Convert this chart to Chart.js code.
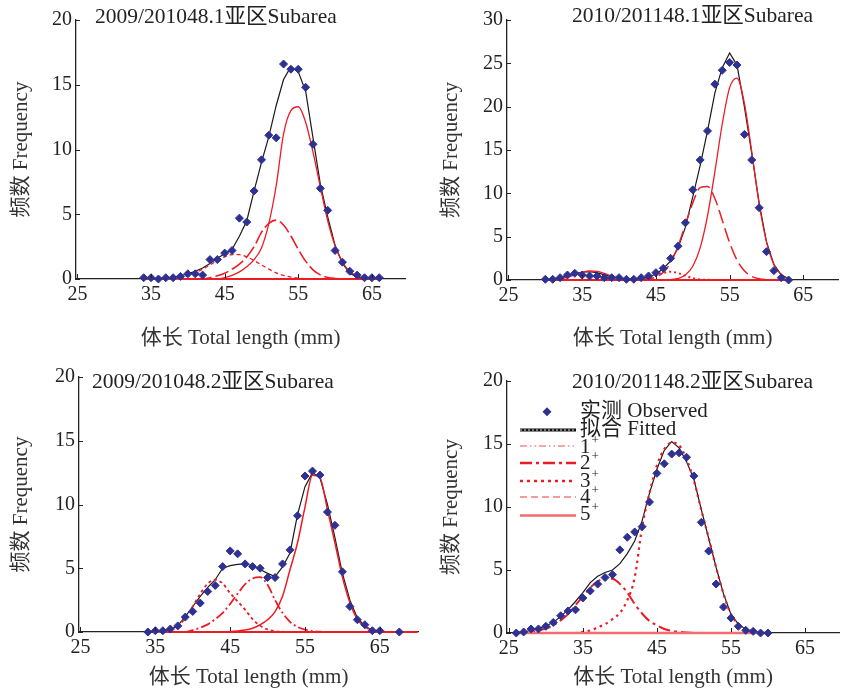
<!DOCTYPE html>
<html>
<head>
<meta charset="utf-8">
<script src="https://cdn.jsdelivr.net/npm/chart.js@4.4.1/dist/chart.umd.min.js"></script>
<style>
    html, body { margin: 0; padding: 0; background: #fff; }
    #wrap { position: relative; width: 847px; height: 689px; }
    canvas { position: absolute; }
</style>
</head>
<body>
<div id="wrap">
    <canvas id="c1" width="423" height="350" style="left:0;top:0"></canvas>
    <canvas id="c2" width="424" height="350" style="left:423px;top:0"></canvas>
    <canvas id="c3" width="423" height="339" style="left:0;top:350px"></canvas>
    <canvas id="c4" width="424" height="339" style="left:423px;top:350px"></canvas>
</div>
<script>
// @ts-check

const FONT = "'Liberation Serif', 'Noto Sans CJK SC', serif";
const RED = '#ed1c24';
const NAVY = '#2e3192';

// ---- texts & ticks ----
const xTickValues = [25, 35, 45, 55, 65];
const yTicks20 = [0, 5, 10, 15, 20];
const yTicks30 = [0, 5, 10, 15, 20, 25, 30];
const xTitle = '体长 Total length (mm)';
const yTitle = '频数 Frequency';
const panelTitles = ['2009/201048.1亚区Subarea', '2010/201148.1亚区Subarea', '2009/201048.2亚区Subarea', '2010/201148.2亚区Subarea'];
const legendLabels = ['实测 Observed', '拟合 Fitted', '1', '2', '3', '4', '5'];

// ---- panel 1 : 2009/2010, 48.1 ----
const p1Len = [34, 35, 36, 37, 38, 39, 40, 41, 42, 43, 44, 45, 46, 47, 48, 49, 50, 51, 52, 53, 54, 55, 56, 57, 58, 59, 60, 61, 62, 63, 64, 65, 66];
const p1Obs = [0.1, 0.1, 0, 0.1, 0.1, 0.2, 0.4, 0.4, 0.3, 1.5, 1.5, 2.0, 2.2, 4.7, 4.4, 6.8, 9.2, 11.1, 10.9, 16.6, 16.2, 16.2, 14.8, 10.4, 7.0, 5.3, 2.2, 1.3, 0.6, 0.3, 0.1, 0.1, 0.1];
const p1Fit = [0, 0.02, 0.05, 0.08, 0.15, 0.25, 0.4, 0.6, 0.85, 1.2, 1.6, 1.95, 2.3, 3.3, 4.5, 6.8, 9.0, 11.0, 13.4, 15.4, 16.4, 16.0, 14.5, 10.9, 7.3, 4.8, 2.6, 1.2, 0.45, 0.15, 0.05, 0.02, 0];
const p1CompA = [0, 0, 0, 0.03, 0.07, 0.15, 0.28, 0.48, 0.76, 1.09, 1.43, 1.71, 1.88, 1.88, 1.71, 1.43, 1.09, 0.76, 0.48, 0.28, 0.15, 0.07, 0.03, 0.01, 0, 0, 0, 0, 0, 0, 0, 0, 0];
const p1CompB = [0, 0, 0, 0, 0, 0, 0, 0, 0, 0.1, 0.25, 0.45, 0.75, 1.15, 1.7, 2.5, 3.6, 4.3, 4.55, 4.17, 3.32, 2.29, 1.38, 0.71, 0.32, 0.12, 0.04, 0.01, 0, 0, 0, 0, 0];
const p1CompC = [0, 0, 0, 0, 0, 0, 0, 0, 0, 0, 0, 0.1, 0.28, 0.55, 0.95, 1.5, 2.4, 4.3, 7.2, 11.2, 13.0, 13.3, 12.1, 9.8, 7.1, 4.5, 2.57, 1.3, 0.58, 0.23, 0.08, 0.03, 0.01];
const p1BaseLen = [40, 45, 50, 55, 60, 66];
const p1Base = [0, 0, 0, 0, 0, 0];

// ---- panel 2 : 2010/2011, 48.1 ----
const p2Len = [30, 31, 32, 33, 34, 35, 36, 37, 38, 39, 40, 41, 42, 43, 44, 45, 46, 47, 48, 49, 50, 51, 52, 53, 54, 55, 56, 57, 58, 59, 60, 61, 62, 63];
const p2Obs = [0.08, 0.08, 0.27, 0.58, 0.77, 0.58, 0.46, 0.46, 0.27, 0.27, 0.27, 0.08, 0.08, 0.27, 0.46, 0.85, 1.35, 2.5, 3.9, 6.6, 10.4, 13.85, 17.2, 22.6, 24.2, 25.1, 24.8, 16.8, 13.85, 8.34, 3.27, 1.08, 0.27, 0];
const p2Fit = [0.05, 0.1, 0.25, 0.5, 0.75, 0.9, 0.95, 0.85, 0.6, 0.4, 0.22, 0.12, 0.1, 0.2, 0.35, 0.7, 1.3, 2.2, 3.7, 6.1, 9.6, 13.2, 17.2, 21.6, 24.5, 26.2, 24.8, 20.0, 14.6, 8.9, 4.4, 1.8, 0.6, 0.15];
const p2CompA = [0, 0.04, 0.13, 0.3, 0.58, 0.87, 1.04, 0.99, 0.76, 0.46, 0.22, 0.09, 0.03, 0.01, 0, 0, 0, 0, 0, 0, 0, 0, 0, 0, 0, 0, 0, 0, 0, 0, 0, 0, 0, 0];
const p2CompB = [0, 0, 0, 0, 0, 0, 0, 0, 0, 0, 0, 0, 0, 0, 0.21, 0.49, 0.8, 0.95, 0.8, 0.49, 0.21, 0.07, 0.02, 0, 0, 0, 0, 0, 0, 0, 0, 0, 0, 0];
const p2CompC = [0, 0, 0, 0, 0, 0, 0, 0, 0, 0, 0, 0, 0, 0, 0.11, 0.34, 0.9, 2.0, 3.9, 6.4, 8.9, 10.65, 10.8, 9.4, 6.9, 4.3, 2.3, 1.07, 0.41, 0.14, 0.04, 0.01, 0, 0];
const p2CompD = [0, 0, 0, 0, 0, 0, 0, 0, 0, 0, 0, 0, 0, 0, 0, 0, 0, 0.05, 0.18, 0.58, 1.59, 3.7, 7.4, 12.5, 18.0, 22.2, 23.3, 20.4, 14.8, 8.8, 4.4, 1.79, 0.6, 0.17];
const p2BaseLen = [31, 40, 50, 62];
const p2Base = [0, 0, 0, 0];

// ---- panel 3 : 2009/2010, 48.2 ----
const p3ObsLen = [34, 35, 36, 37, 38, 39, 40, 41, 42, 43, 44, 45, 46, 47, 48, 49, 50, 51, 52, 53, 54, 55, 56, 57, 58, 59, 60, 61, 62, 63, 64, 65, 67.6];
const p3Obs = [0, 0.1, 0.1, 0.23, 0.48, 1.17, 1.61, 2.27, 3.18, 3.65, 5.13, 6.36, 6.13, 5.34, 5.13, 5.0, 4.27, 4.27, 5.34, 6.44, 9.12, 12.23, 12.62, 12.31, 9.41, 8.37, 4.72, 2.0, 0.96, 0.57, 0.1, 0.1, 0];
const p3Len = [34, 35, 36, 37, 38, 39, 40, 41, 42, 43, 44, 45, 46, 47, 48, 49, 50, 51, 52, 53, 54, 55, 56, 57, 58, 59, 60, 61, 62, 63, 64, 65, 66, 67, 68, 69, 70];
const p3Fit = [0, 0.02, 0.05, 0.15, 0.5, 1.2, 2.0, 2.8, 3.5, 4.1, 5.0, 5.2, 5.3, 5.35, 5.2, 4.9, 4.6, 4.35, 5.1, 6.2, 9.2, 11.4, 12.5, 12.1, 10.0, 7.4, 4.6, 2.5, 1.1, 0.45, 0.15, 0.05, 0.02, 0, 0, 0, 0];
const p3CompA = [0, 0.03, 0.1, 0.25, 0.5, 1.1, 2.0, 3.0, 3.8, 4.1, 3.8, 3.05, 2.4, 1.75, 1.0, 0.5, 0.2, 0.07, 0.02, 0, 0, 0, 0, 0, 0, 0, 0, 0, 0, 0, 0, 0, 0, 0, 0, 0, 0];
const p3CompB = [0, 0, 0, 0, 0, 0, 0.15, 0.33, 0.6, 1.0, 1.5, 2.2, 3.0, 3.75, 4.2, 4.3, 3.7, 2.5, 1.5, 0.8, 0.4, 0.18, 0.07, 0.02, 0, 0, 0, 0, 0, 0, 0, 0, 0, 0, 0, 0, 0];
const p3CompC = [0, 0, 0, 0, 0, 0, 0, 0, 0, 0, 0, 0.03, 0.08, 0.15, 0.3, 0.57, 0.96, 1.6, 2.8, 4.9, 7.0, 9.8, 12.3, 12.1, 9.6, 7.0, 4.3, 2.3, 1.0, 0.4, 0.15, 0.05, 0.02, 0, 0, 0, 0];
const p3BaseLen = [36, 45, 55, 70];
const p3Base = [0, 0, 0, 0];

// ---- panel 4 : 2010/2011, 48.2 ----
const p4Len = [26, 27, 28, 29, 30, 31, 32, 33, 34, 35, 36, 37, 38, 39, 40, 41, 42, 43, 44, 45, 46, 47, 48, 49, 50, 51, 52, 53, 54, 55, 56, 57, 58, 59, 60];
const p4Obs = [0, 0.08, 0.32, 0.32, 0.53, 0.84, 1.37, 1.75, 1.84, 2.78, 3.34, 3.88, 4.4, 4.63, 6.6, 7.6, 8.02, 8.44, 10.4, 12.67, 13.43, 14.2, 14.3, 13.95, 12.47, 8.78, 6.5, 3.89, 2.06, 1.19, 0.53, 0.21, 0.13, 0, 0];
const p4Fit = [0.05, 0.1, 0.2, 0.35, 0.55, 0.85, 1.3, 1.85, 2.5, 3.2, 4.0, 4.5, 4.8, 5.0, 5.5, 6.3, 7.3, 8.9, 11.1, 13.0, 14.5, 15.2, 14.7, 13.6, 12.2, 9.8, 7.5, 5.2, 3.1, 1.5, 0.7, 0.3, 0.1, 0.04, 0];
const p4Comp2 = [0, 0.05, 0.1, 0.2, 0.35, 0.6, 1.0, 1.5, 2.2, 2.9, 3.6, 4.1, 4.35, 4.3, 3.9, 3.2, 2.3, 1.55, 0.95, 0.62, 0.32, 0.18, 0.09, 0.04, 0.02, 0, 0, 0, 0, 0, 0, 0, 0, 0, 0];
const p4Comp3 = [0, 0, 0, 0, 0, 0, 0, 0, 0, 0.1, 0.2, 0.45, 0.7, 1.1, 1.6, 2.6, 4.4, 8.4, 11.1, 13.3, 14.6, 15.1, 14.9, 13.8, 12.1, 9.75, 7.55, 5.2, 3.1, 1.5, 0.7, 0.3, 0.1, 0.04, 0];
const p4BaseLen = [26, 35, 45, 60];
const p4Base = [0, 0, 0, 0];


/**
 * Zip two lists into Chart.js points
 * @param {number[]} xs
 * @param {number[]} ys
 */
function pts(xs, ys) {
    return xs.map((x, i) => ({ x: x, y: ys[i] }));
}

/**
 * One red component curve
 */
function curve(xs, ys, style) {
    return Object.assign({
        data: pts(xs, ys),
        showLine: true,
        pointRadius: 0,
        borderColor: RED,
        borderWidth: 1.2,
        fill: false,
        clip: false,
        order: 2,
        cubicInterpolationMode: 'monotone'
    }, style);
}

/**
 * Legend drawn inside the last panel
 */
function drawLegend(ctx) {
    const lx0 = 97, lx1 = 153, tx = 157;
    const lineY = [61.7, 80, 96, 113, 131, 147, 165.5];
    const textY = [61, 79, 97, 113, 131, 147, 164];
    const styles = [
        null,
        { color: '#111', width: 3, dash: [] },
        { color: '#f38b8d', width: 1.5, dash: [7, 3, 1.5, 3, 1.5, 3] },
        { color: RED, width: 2.5, dash: [12, 4, 3, 4] },
        { color: RED, width: 2.5, dash: [3, 4] },
        { color: '#f47a7c', width: 1.5, dash: [7, 4] },
        { color: '#f26d6f', width: 2.5, dash: [] }
    ];
    ctx.save();
    // diamond marker
    ctx.fillStyle = NAVY;
    ctx.beginPath();
    ctx.moveTo(124 - 4.5, lineY[0]);
    ctx.lineTo(124, lineY[0] - 4.5);
    ctx.lineTo(124 + 4.5, lineY[0]);
    ctx.lineTo(124, lineY[0] + 4.5);
    ctx.closePath();
    ctx.fill();
    for (let i = 1; i < styles.length; i++) {
        const s = styles[i];
        ctx.strokeStyle = s.color;
        ctx.lineWidth = s.width;
        ctx.setLineDash(s.dash);
        ctx.beginPath();
        ctx.moveTo(lx0, lineY[i]);
        ctx.lineTo(lx1, lineY[i]);
        ctx.stroke();
    }
    // light dots inside the fitted symbol
    ctx.strokeStyle = '#ddd';
    ctx.lineWidth = 1;
    ctx.setLineDash([2, 2]);
    ctx.beginPath();
    ctx.moveTo(lx0, lineY[1]);
    ctx.lineTo(lx1, lineY[1]);
    ctx.stroke();
    ctx.setLineDash([]);

    ctx.fillStyle = '#222';
    ctx.textAlign = 'left';
    legendLabels.forEach((label, i) => {
        ctx.font = '21px ' + FONT;
        ctx.textBaseline = 'middle';
        ctx.fillText(label, tx, textY[i]);
        if (i >= 2) {
            const w = ctx.measureText(label).width;
            ctx.font = '13px ' + FONT;
            ctx.textBaseline = 'alphabetic';
            ctx.fillText('+', tx + w + 1, textY[i] - 3);
        }
    });
    ctx.restore();
}

const panelDecor = {
    id: 'panelDecor',
    afterDraw(chart, args, opts) {
        const { ctx, chartArea: a } = chart;
        const xs = chart.scales.x;
        const ys = chart.scales.y;
        ctx.save();
        ctx.strokeStyle = '#222';
        ctx.lineWidth = 1;
        xs.ticks.forEach((t) => {
            const px = Math.round(xs.getPixelForValue(t.value)) + 0.5;
            ctx.beginPath();
            ctx.moveTo(px, a.bottom - 1);
            ctx.lineTo(px, a.bottom - 5);
            ctx.stroke();
        });
        ys.ticks.forEach((t) => {
            const py = Math.round(ys.getPixelForValue(t.value)) + 0.5;
            ctx.beginPath();
            ctx.moveTo(a.left, py);
            ctx.lineTo(a.left + 4, py);
            ctx.stroke();
        });
        ctx.fillStyle = '#222';
        ctx.textBaseline = 'middle';
        ctx.textAlign = 'left';
        ctx.font = '21.5px ' + FONT;
        ctx.fillText(opts.title, opts.titleX, opts.titleY);
        ctx.restore();
        if (opts.legend) {
            drawLegend(ctx);
        }
    }
};

/**
 * Build one of the four panels
 */
function buildPanel(p) {
    const datasets = [
        {
            data: pts(p.obsLen, p.obs),
            pointStyle: 'rectRot',
            pointRadius: 4,
            borderWidth: 1,
            backgroundColor: NAVY,
            borderColor: NAVY,
            showLine: false,
            clip: false,
            order: 0
        },
        {
            data: pts(p.fitLen, p.fit),
            showLine: true,
            pointRadius: 0,
            borderColor: '#1a1a1a',
            borderWidth: 1.2,
            tension: 0,
            clip: false,
            order: 3
        }
    ].concat(p.comps);

    new Chart(document.getElementById(p.id), {
        type: 'scatter',
        data: { datasets: datasets },
        options: {
            responsive: false,
            animation: false,
            devicePixelRatio: 1,
            layout: { padding: { left: 0, top: p.padTop, right: p.padRight, bottom: 0 } },
            plugins: {
                legend: { display: false },
                tooltip: { enabled: false },
                panelDecor: { title: p.title, titleX: p.titleX, titleY: p.titleY, legend: p.legend }
            },
            scales: {
                x: {
                    type: 'linear',
                    min: p.xMin,
                    max: p.xMax,
                    afterBuildTicks: (s) => { s.ticks = xTickValues.map((v) => ({ value: v })); },
                    afterFit: (s) => { s.height = p.xAxisH; },
                    grid: { display: false, drawTicks: false },
                    border: { display: true, color: '#222', width: 1.3 },
                    ticks: { padding: 4, color: '#222', autoSkip: false, maxRotation: 0, font: { family: FONT, size: 20 } },
                    title: { display: true, text: xTitle, color: '#333', font: { family: FONT, size: 21 }, padding: { top: 0, bottom: -1.5 } }
                },
                y: {
                    type: 'linear',
                    min: 0,
                    max: p.yMax,
                    afterBuildTicks: (s) => { s.ticks = p.yTicks.map((v) => ({ value: v })); },
                    afterFit: (s) => { s.width = p.yAxisW; },
                    grid: { display: false, drawTicks: false },
                    border: { display: true, color: '#222', width: 1.3 },
                    ticks: { padding: 4, color: '#222', font: { family: FONT, size: 20 } },
                    title: { display: true, text: yTitle, color: '#333', font: { family: FONT, size: 21 }, padding: { top: p.yTitlePad, bottom: 0 } }
                }
            }
        },
        plugins: [panelDecor]
    });
}

// zero baseline sits on top of the black fitted line, like the original
const baseStyle = { borderWidth: 2.2, order: 1, cubicInterpolationMode: 'default' };

buildPanel({
    id: 'c1', obsLen: p1Len, obs: p1Obs, fitLen: p1Len, fit: p1Fit,
    comps: [
        curve(p1BaseLen, p1Base, baseStyle),
        curve(p1Len, p1CompA, { borderDash: [4, 3], borderWidth: 1.3 }),
        curve(p1Len, p1CompB, { borderDash: [14, 4], borderWidth: 1.6 }),
        curve(p1Len, p1CompC, { borderWidth: 1.3 })
    ],
    yTicks: yTicks20, yMax: 20, xMin: 24.8, xMax: 69.5,
    padTop: 20, padRight: 18, yAxisW: 76, xAxisH: 71, yTitlePad: 9,
    title: panelTitles[0], titleX: 95, titleY: 17, legend: false
});

buildPanel({
    id: 'c2', obsLen: p2Len, obs: p2Obs, fitLen: p2Len, fit: p2Fit,
    comps: [
        curve(p2BaseLen, p2Base, baseStyle),
        curve(p2Len, p2CompA, { borderWidth: 1.3 }),
        curve(p2Len, p2CompB, { borderDash: [2, 3], borderWidth: 2 }),
        curve(p2Len, p2CompC, { borderDash: [14, 5], borderWidth: 1.5 }),
        curve(p2Len, p2CompD, { borderWidth: 1.3 })
    ],
    yTicks: yTicks30, yMax: 30, xMin: 24.8, xMax: 69.7,
    padTop: 20, padRight: 9, yAxisW: 84, xAxisH: 70, yTitlePad: 15.5,
    title: panelTitles[1], titleX: 149, titleY: 16, legend: false
});

buildPanel({
    id: 'c3', obsLen: p3ObsLen, obs: p3Obs, fitLen: p3Len, fit: p3Fit,
    comps: [
        curve(p3BaseLen, p3Base, baseStyle),
        curve(p3Len, p3CompA, { borderDash: [3, 3], borderWidth: 1.8 }),
        curve(p3Len, p3CompB, { borderDash: [10, 3, 2, 3], borderWidth: 1.8 }),
        curve(p3Len, p3CompC, { borderWidth: 1.5 })
    ],
    yTicks: yTicks20, yMax: 20, xMin: 24.8, xMax: 70.1,
    padTop: 27, padRight: 3, yAxisW: 79, xAxisH: 57, yTitlePad: 8.5,
    title: panelTitles[2], titleX: 92, titleY: 32, legend: false
});

buildPanel({
    id: 'c4', obsLen: p4Len, obs: p4Obs, fitLen: p4Len, fit: p4Fit,
    comps: [
        curve(p4BaseLen, p4Base, Object.assign({}, baseStyle, { borderColor: '#f26d6f', borderWidth: 2.5 })),
        curve(p4Len, p4Comp2, { borderDash: [12, 4, 3, 4], borderWidth: 2 }),
        curve(p4Len, p4Comp3, { borderDash: [2.5, 4], borderWidth: 2.2 })
    ],
    yTicks: yTicks20, yMax: 20, xMin: 24.75, xMax: 69.6,
    padTop: 31, padRight: 8, yAxisW: 84, xAxisH: 56, yTitlePad: 15.5,
    title: panelTitles[3], titleX: 149, titleY: 32, legend: true
});
</script>
</body>
</html>
